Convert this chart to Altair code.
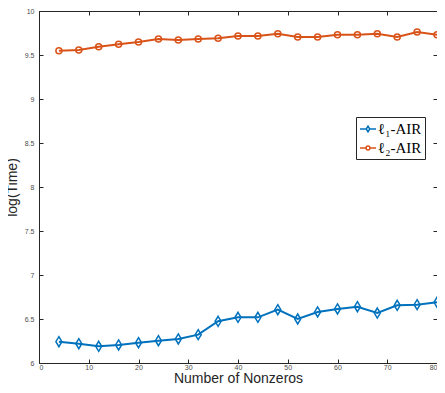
import altair as alt
import pandas as pd

nonzeros = [4, 8, 12, 16, 20, 24, 28, 32, 36, 40, 44, 48, 52, 56, 60, 64, 68, 72, 76, 80]
l1_air = [6.242, 6.219, 6.190, 6.205, 6.231, 6.253, 6.273, 6.322, 6.474, 6.519,
          6.519, 6.606, 6.500, 6.580, 6.614, 6.640, 6.568, 6.656, 6.663, 6.690]
l2_air = [9.549, 9.557, 9.594, 9.621, 9.648, 9.682, 9.670, 9.682, 9.690, 9.716,
          9.716, 9.742, 9.705, 9.705, 9.730, 9.730, 9.742, 9.705, 9.761, 9.730]
series_names = ["ℓ₁-AIR", "ℓ₂-AIR"]
series_colors = ["#0072BD", "#D95319"]
x_ticks = [0, 10, 20, 30, 40, 50, 60, 70, 80]
y_ticks = [6, 6.5, 7, 7.5, 8, 8.5, 9, 9.5, 10]

rows = []
for name, vals in zip(series_names, [l1_air, l2_air]):
    for x, v in zip(nonzeros, vals):
        rows.append({"n": x, "t": v, "series": name})
df = pd.DataFrame(rows)

diamond = "M0,-1L0.6,0L0,1L-0.6,0Z"
circle = "M-0.6,0A0.6,0.6 0 1,0 0.6,0A0.6,0.6 0 1,0 -0.6,0Z"
leg_diamond = "M-1,0H-0.22M0.22,0H1M0,-0.36L0.22,0L0,0.36L-0.22,0Z"
leg_circle = "M-1,0H-0.24M0.24,0H1M-0.24,0A0.24,0.24 0 1,0 0.24,0A0.24,0.24 0 1,0 -0.24,0Z"

AX = "#262626"
LBL = "#4d4d4d"
xscale = alt.Scale(domain=[0, 80], nice=False, zero=False)
yscale = alt.Scale(domain=[6, 10], nice=False, zero=False)

tick_axis = dict(offset=-4, tickSize=4, domain=False, grid=False, tickColor=AX,
                 tickWidth=1, labelColor=LBL, labelFont="Liberation Sans")
title_style = dict(titleFont="Liberation Sans", titleColor=AX, titleFontWeight="normal")

x_bottom = alt.Axis(orient="bottom", values=x_ticks, labelFontSize=7, labelPadding=0,
                    title="Number of Nonzeros", titleFontSize=14,
                    titleBaseline="alphabetic", titleY=23,
                    **tick_axis, **title_style)
y_left = alt.Axis(orient="left", values=y_ticks, format=".1~f", labelFontSize=7,
                  labelPadding=5, title="log(Time)", titleFontSize=14, titlePadding=5,
                  **tick_axis, **title_style)
x_top = alt.Axis(orient="top", values=x_ticks, labels=False, title=None, **tick_axis)
y_right = alt.Axis(orient="right", values=y_ticks, labels=False, title=None, **tick_axis)

base = alt.Chart(df)

lines = base.mark_line(strokeWidth=2, clip=False).encode(
    x=alt.X("n:Q", scale=xscale, axis=x_bottom),
    y=alt.Y("t:Q", scale=yscale, axis=y_left),
    color=alt.Color("series:N", scale=alt.Scale(domain=series_names, range=series_colors), legend=None),
    detail="series:N",
)

points = base.mark_point(filled=False, strokeWidth=1.5, size=100, opacity=1, clip=False).encode(
    x=alt.X("n:Q", scale=xscale, axis=x_top),
    y=alt.Y("t:Q", scale=yscale, axis=y_right),
    color=alt.Color("series:N", scale=alt.Scale(domain=series_names, range=series_colors), legend=None),
    shape=alt.Shape("series:N", scale=alt.Scale(domain=series_names, range=[diamond, circle]), legend=None),
)

leg = dict(title=None, orient="none", legendX=317, legendY=106,
           strokeColor=AX, fillColor="white", padding=3, rowPadding=2,
           symbolSize=256, symbolStrokeWidth=1.5,
           labelFont="Liberation Serif", labelFontSize=15,
           labelColor="#000000", labelOffset=1, cornerRadius=0)

legend_layer = base.mark_point(filled=False, strokeWidth=1.5, opacity=1).encode(
    color=alt.Color("series:N", scale=alt.Scale(domain=series_names, range=series_colors),
                    legend=alt.Legend(**leg)),
    shape=alt.Shape("series:N", scale=alt.Scale(domain=series_names, range=[leg_diamond, leg_circle]),
                    legend=alt.Legend(**leg)),
).transform_filter("false")

chart = alt.layer(lines, points, legend_layer).resolve_axis(
    x="independent", y="independent"
).resolve_scale(
    color="independent", shape="independent"
).properties(
    width=398, height=352,
    autosize=alt.AutoSizeParams(type="none"),
    padding={"left": 31, "top": 3, "right": 0, "bottom": 22},
    background="white",
).configure_view(stroke=AX, strokeWidth=1)

chart.save("out.html", embed_options={"renderer": "svg", "actions": False})
